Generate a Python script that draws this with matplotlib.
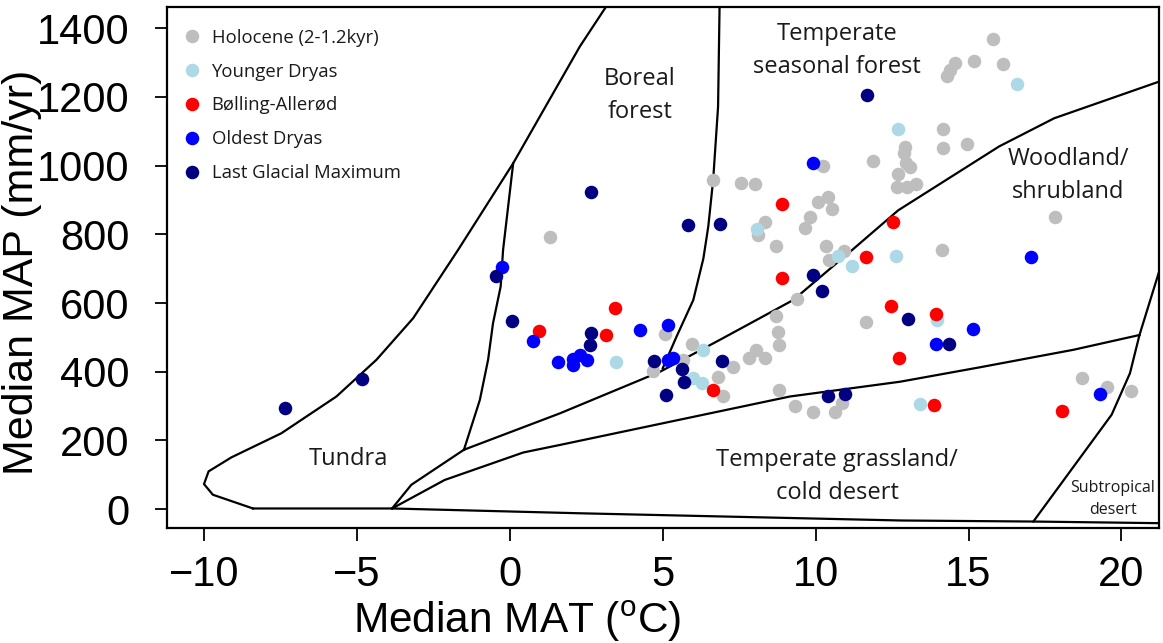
import numpy as np
import matplotlib.pyplot as plt

plt.rcParams['mathtext.fontset'] = 'custom'
plt.rcParams['mathtext.rm'] = 'Liberation Sans'

# biome boundary lines (MAT in degC, MAP in mm/yr)
base_x = [-8.4, -3.85, 2.3, 12.8, 17.1, 21.4]
base_y = [2, 2, -12, -33, -36, -41]
outer_x = [-8.4, -9.71, -10.0, -9.85, -9.10, -7.47, -5.67, -4.36, -3.16, -1.69, 0.11, 2.29, 3.2]
outer_y = [2, 42, 73, 110, 151, 221, 328, 435, 556, 755, 1007, 1347, 1470]
tundra_boreal_x = [0.11, -0.22, -0.30, -0.55, -0.71, -0.98, -1.50]
tundra_boreal_y = [1007, 755, 648, 541, 435, 318, 173]
tundra_grass_x = [-1.50, -3.22, -3.85]
tundra_grass_y = [173, 71, 2]
woodland_x = [-1.50, 1.64, 4.91, 6.87, 9.27, 11.2, 12.7, 16.0, 17.8, 21.4]
woodland_y = [173, 279, 400, 493, 609, 755, 870, 1056, 1138, 1250]
boreal_temp_x = [6.86, 6.81, 6.65, 6.49, 6.33, 6.0, 5.45, 5.0]
boreal_temp_y = [1470, 1172, 959, 823, 730, 609, 502, 410]
grass_x = [-3.85, -2.13, 0.44, 1.64, 9.16, 12.76, 15.37, 18.43, 20.59]
grass_y = [2, 85, 165, 187, 328, 371, 413, 464, 507]
subtrop_x = [17.12, 19.68, 20.28, 20.59, 21.4]
subtrop_y = [-36, 275, 396, 507, 740]

# Holocene (2-1.2kyr)
holo_mat = [1.31, 6.65, 7.55, 8.01, 10.23, 11.88, 12.92, 12.89, 12.95, 13.08, 12.70, 12.65,
            12.98, 13.28, 15.79, 14.56, 14.39, 14.28, 15.18, 16.14, 14.15, 14.17, 14.96, 10.09,
            10.41, 10.53, 9.81, 9.64, 8.34, 8.13, 8.70, 10.33, 10.94, 10.45, 14.12, 9.38, 8.70,
            8.78, 8.79, 8.06, 7.82, 8.34, 7.29, 6.81, 6.98, 8.79, 9.32, 9.90, 10.63, 10.87,
            11.64, 17.83, 18.72, 19.52, 20.31, 5.07, 4.69, 5.67, 5.97]
holo_map = [792, 957, 949, 946, 998, 1015, 1054, 1036, 1007, 997, 976, 939,
            939, 946, 1368, 1300, 1279, 1261, 1304, 1295, 1108, 1051, 1062, 893,
            908, 873, 851, 818, 835, 799, 765, 767, 753, 726, 755, 612, 561,
            517, 478, 464, 440, 439, 415, 386, 330, 347, 300, 284, 284, 308,
            546, 850, 381, 355, 344, 511, 401, 435, 481]
# Younger Dryas
yd_mat = [3.48, 6.33, 6.0, 6.3, 8.09, 10.74, 11.18, 12.63, 12.70, 16.57, 13.96, 13.41]
yd_map = [428, 462, 382, 366, 815, 736, 709, 736, 1107, 1238, 551, 307]
# Bolling-Allerod
ba_mat = [0.97, 3.43, 3.16, 6.63, 8.89, 8.91, 11.64, 12.52, 12.45, 13.93, 12.74, 13.86, 18.07]
ba_map = [519, 585, 507, 346, 887, 673, 735, 837, 592, 569, 439, 302, 286]
# Oldest Dryas
od_mat = [-0.25, 0.76, 1.58, 2.05, 2.29, 2.05, 2.51, 4.26, 5.18, 5.18, 5.34, 9.90, 17.03,
          13.94, 15.16, 19.30]
od_map = [704, 490, 428, 438, 449, 420, 433, 521, 537, 435, 440, 1007, 734,
          481, 524, 336]
# Last Glacial Maximum
lgm_mat = [-7.34, -4.83, -0.46, 0.08, 2.67, 2.65, 2.62, 5.83, 6.87, 4.71, 5.62, 5.69, 5.10,
           6.93, 9.90, 10.2, 10.39, 10.96, 11.67, 13.03, 14.37]
lgm_map = [294, 378, 678, 548, 922, 512, 478, 828, 829, 432, 408, 369, 331,
           430, 681, 635, 330, 336, 1205, 553, 481]

fig = plt.figure(figsize=(11.63, 6.43), dpi=100)
ax = fig.add_axes([0.1436, 0.1793, 0.853, 0.8093])

for bx, by in [(base_x, base_y), (outer_x, outer_y), (tundra_boreal_x, tundra_boreal_y),
               (tundra_grass_x, tundra_grass_y), (woodland_x, woodland_y),
               (boreal_temp_x, boreal_temp_y), (grass_x, grass_y), (subtrop_x, subtrop_y)]:
    ax.plot(bx, by, color='black', lw=1.6, zorder=1)

ms = 95
ax.scatter(holo_mat, holo_map, s=ms, color='#BEBEBE', lw=0, label='Holocene (2-1.2kyr)', zorder=2)
ax.scatter(yd_mat, yd_map, s=ms, color='#ADD8E6', lw=0, label='Younger Dryas', zorder=3)
ax.scatter(ba_mat, ba_map, s=ms, color='#FF0000', lw=0, label='B\u00f8lling-Aller\u00f8d', zorder=4)
ax.scatter(od_mat, od_map, s=ms, color='#0000FF', lw=0, label='Oldest Dryas', zorder=5)
ax.scatter(lgm_mat, lgm_map, s=ms, color='#000080', lw=0, label='Last Glacial Maximum', zorder=6)

bf = dict(family='Open Sans', color='#1a1a1a', ha='center', va='center', linespacing=1.5)
ax.text(4.25, 1203, 'Boreal\nforest', fontsize=17, **bf)
ax.text(10.7, 1336, 'Temperate\nseasonal forest', fontsize=17, **bf)
ax.text(18.25, 972, 'Woodland/\nshrubland', fontsize=17, **bf)
ax.text(-5.27, 146, 'Tundra', fontsize=17, **bf)
ax.text(10.7, 96, 'Temperate grassland/\ncold desert', fontsize=17, **bf)
ax.text(19.72, 31, 'Subtropical\ndesert', fontsize=11.5, **bf)

leg = ax.legend(loc='upper left', bbox_to_anchor=(0.016, 0.959), frameon=False,
                prop={'family': 'Open Sans', 'size': 13.3}, handlelength=1.0,
                handletextpad=0.55, labelspacing=0.86, borderpad=0, borderaxespad=0,
                scatteryoffsets=[0.5])
for t in leg.get_texts():
    t.set_color('#1a1a1a')

ax.set_xlim(-11.21, 21.23)
ax.set_ylim(-54, 1461)
ax.set_xticks([-10, -5, 0, 5, 10, 15, 20])
ax.set_yticks(np.arange(0, 1401, 200))
for s in ax.spines.values():
    s.set_linewidth(1.6)
ax.tick_params(direction='out', length=9, width=1.3, labelsize=30)
ax.tick_params(axis='x', pad=11)
ax.tick_params(axis='y', pad=18)
for lab in ax.get_xticklabels() + ax.get_yticklabels():
    lab.set_family('Liberation Sans')
ax.set_xlabel('Median MAT ($^{\\mathrm{o}}$C)', fontsize=30.5, family='Liberation Sans')
ax.set_ylabel('Median MAP (mm/yr)', fontsize=31, family='Liberation Sans')
ax.xaxis.set_label_coords(0.353, -0.137)
ax.yaxis.set_label_coords(-0.146, 0.49)
ax.yaxis.label.set_verticalalignment('center')

fig.savefig('out.png', dpi=100)
